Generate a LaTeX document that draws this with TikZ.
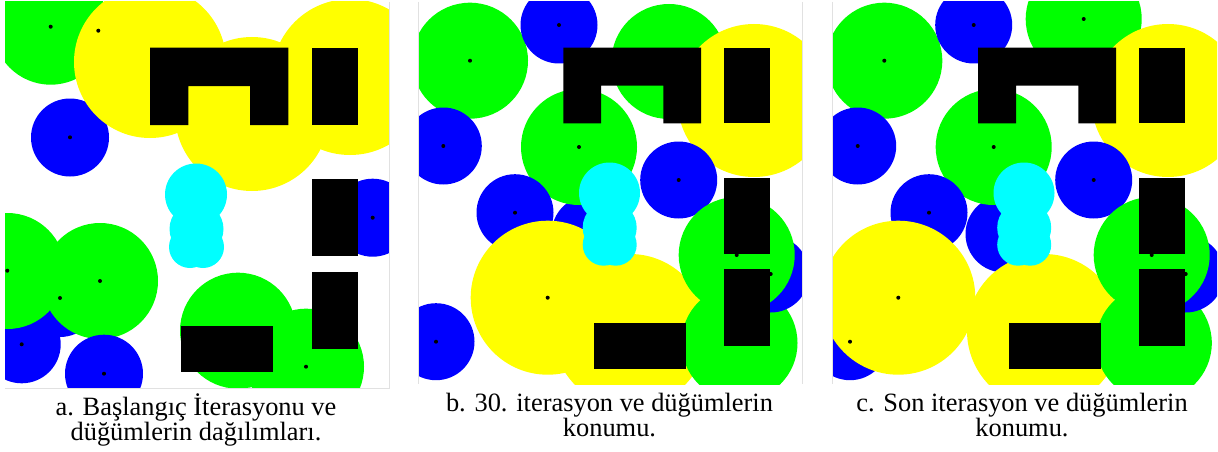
\documentclass[tikz,border=0pt]{standalone}
\usepackage{fontspec}
\setmainfont{Liberation Serif}
\definecolor{pgreen}{RGB}{0,255,0}
\definecolor{pyellow}{RGB}{255,255,0}
\definecolor{pblue}{RGB}{0,0,255}
\definecolor{pcyan}{RGB}{0,255,255}
\definecolor{framegray}{RGB}{225,225,225}
\tikzset{
  gc/.style={fill=pgreen},
  yc/.style={fill=pyellow},
  bc/.style={fill=pblue},
  cc/.style={fill=pcyan},
  obst/.style={fill=black},
  frameline/.style={draw=framegray, line width=0.8pt},
  captext/.style={font=\fontsize{26.4}{30}\selectfont, inner sep=0pt, anchor=base},
}
\newcommand\circG[3]{\fill[gc] (#1,#2) circle[radius=#3pt];}
\newcommand\circY[3]{\fill[yc] (#1,#2) circle[radius=#3pt];}
\newcommand\circB[3]{\fill[bc] (#1,#2) circle[radius=#3pt];}
\newcommand\circC[3]{\fill[cc] (#1,#2) circle[radius=#3pt];}
\newcommand\ndot[2]{\fill[black] (#1,#2) circle[radius=2pt];}
\begin{document}
\begin{tikzpicture}[x=1pt,y=-1pt]
\useasboundingbox[fill=white] (0,0) rectangle (1218,452);

% ---------------- panel a ----------------
\begin{scope}
\clip (5,2) rectangle (389,388);
\circB{70}{137.5}{39}
\circG{50.7}{26.7}{58}
\circY{150}{62}{76}
\circY{252}{114}{77}
\circY{350}{77}{78}
\circB{372.7}{217.7}{39}
\circB{60}{298}{39}
\circB{21.7}{344.3}{39}
\circG{7.3}{271}{58}
\circG{100}{281}{58}
\circB{104}{373.7}{39}
\circG{238}{330.7}{58}
\circG{306}{366.7}{58}
\circC{196}{194.5}{31}
\circC{196.5}{229}{27}
\circC{190}{247}{21}
\circC{203}{247}{21}
\fill[obst] (150,47.7) -- (288.3,47.7) -- (288.3,125) -- (250,125) -- (250,86) -- (188.3,86) -- (188.3,125) -- (150,125) -- cycle;
\fill[obst] (311.7,47.7) rectangle (357.7,125);
\fill[obst] (311.7,179) rectangle (357.7,256);
\fill[obst] (311.7,271.7) rectangle (357.7,348.7);
\fill[obst] (180.7,326) rectangle (273.3,371.7);
\ndot{50.7}{26.7}\ndot{98.3}{30.7}\ndot{70}{137.3}\ndot{372.7}{217.7}
\ndot{7.3}{270.7}\ndot{100}{281}\ndot{60}{298}\ndot{21.7}{344.3}
\ndot{104}{373.7}\ndot{306}{366.7}
\end{scope}
\draw[frameline] (389,2) -- (389,388) -- (5,388);

% ---------------- panel b ----------------
\begin{scope}
\clip (418,2) rectangle (802,384);
\circG{470}{60.7}{58}
\circB{559}{25}{38.5}
\circG{669}{61.5}{57.5}
\circY{754}{100.5}{76.5}
\circB{590}{234}{38.5}
\circG{579}{147}{58}
\circB{443.3}{146}{38.5}
\circB{515}{212.7}{38.5}
\circB{678.7}{180}{38.5}
\circY{547.7}{297.7}{77}
\circY{630}{331}{77}
\circG{739.5}{343}{58}
\circB{770.7}{274}{38.5}
\circG{736.7}{255}{58}
\circB{436}{341.7}{38.5}
\circC{609.5}{193}{30.5}
\circC{609.7}{227.7}{27}
\circC{603.7}{244.7}{21}
\circC{615.7}{244.7}{21}
\fill[obst] (563.3,47.7) -- (701,47.7) -- (701,123.3) -- (663.3,123.3) -- (663.3,85.7) -- (601,85.7) -- (601,123.3) -- (563.3,123.3) -- cycle;
\fill[obst] (724.3,47.7) rectangle (770,123.3);
\fill[obst] (724.3,177.7) rectangle (770,254);
\fill[obst] (724.3,269.3) rectangle (770,345.7);
\fill[obst] (594,323.3) rectangle (686,369);
\ndot{470}{60.7}\ndot{559}{25}\ndot{443.3}{146}\ndot{579}{147}
\ndot{678.7}{180}\ndot{515}{212.7}\ndot{736.7}{255}\ndot{770.7}{274}
\ndot{547.7}{297.7}\ndot{436}{341.7}
\end{scope}
\draw[frameline] (418,2) -- (418,384);
\draw[frameline] (802,2) -- (802,384);

% ---------------- panel c ----------------
\begin{scope}
\clip (832,2) rectangle (1217,384);
\circG{884.3}{60.7}{58}
\circB{973.7}{25}{38.5}
\circG{1083.7}{19}{58}
\circY{1168}{100.5}{76.5}
\circB{1004}{234}{38.5}
\circG{993.7}{147}{58}
\circB{857.7}{146}{38.5}
\circB{929}{212.7}{38.5}
\circB{1093.7}{180}{38.5}
\circB{850}{341.7}{38.5}
\circY{898.3}{297.7}{77}
\circY{1044}{331}{77}
\circG{1153.8}{343}{58}
\circB{1185.7}{274}{38.5}
\circG{1151.7}{255}{58}
\circC{1024}{193}{30.5}
\circC{1024.2}{227.7}{27}
\circC{1018.2}{244.7}{21}
\circC{1030.2}{244.7}{21}
\fill[obst] (978,47.7) -- (1116,47.7) -- (1116,123.3) -- (1078.3,123.3) -- (1078.3,85.7) -- (1016,85.7) -- (1016,123.3) -- (978,123.3) -- cycle;
\fill[obst] (1139.3,47.7) rectangle (1185.3,123.3);
\fill[obst] (1139.3,177.7) rectangle (1185.3,254);
\fill[obst] (1139.3,269.3) rectangle (1185.3,345.7);
\fill[obst] (1008.7,323.3) rectangle (1101,369);
\ndot{884.3}{60.7}\ndot{973.7}{25}\ndot{1083.7}{19}\ndot{857.7}{146}
\ndot{993.7}{147}\ndot{1093.7}{180}\ndot{929}{212.7}\ndot{1151.7}{255}
\ndot{1185.7}{274}\ndot{898.3}{297.7}\ndot{850}{341.7}
\end{scope}
\draw[frameline] (832,2) -- (832,384);

% ---------------- captions ----------------
\node[captext] (capa1) at (196,415.3) {a. Başlangıç İterasyonu ve};
\node[captext] (capa2) at (196,440.3) {düğümlerin dağılımları.};
\node[captext] (capb1) at (609.5,411) {b. 30. iterasyon ve düğümlerin};
\node[captext] (capb2) at (609.5,436) {konumu.};
\node[captext] (capc1) at (1022,411) {c. Son iterasyon ve düğümlerin};
\node[captext] (capc2) at (1022,436) {konumu.};
\end{tikzpicture}
\end{document}
